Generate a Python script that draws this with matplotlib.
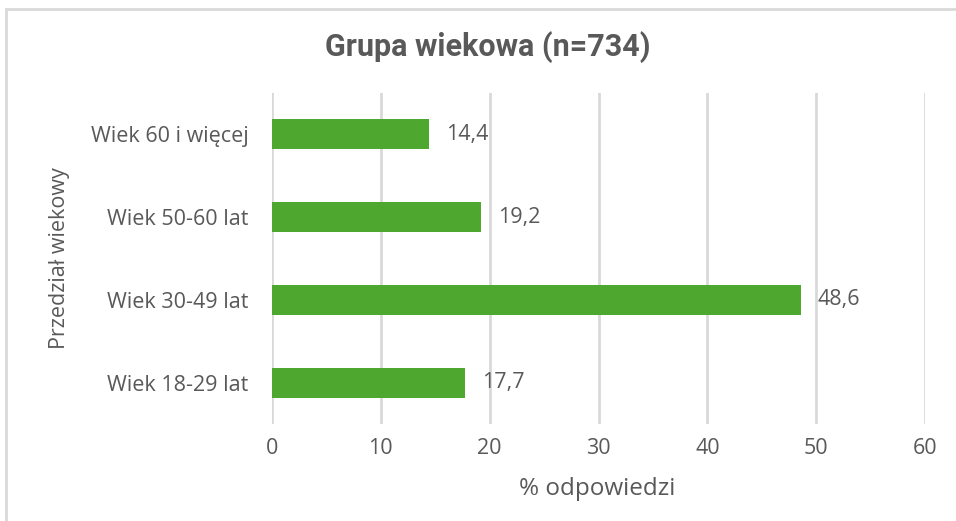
import matplotlib.pyplot as plt
from matplotlib.patches import Rectangle

# age groups, bottom to top
groups = ["Wiek 18-29 lat", "Wiek 30-49 lat", "Wiek 50-60 lat", "Wiek 60 i więcej"]
shares = [17.7, 48.6, 19.2, 14.4]
xticks = [0, 10, 20, 30, 40, 50, 60]

text_col = "#595959"
grid_col = "#D9D9D9"
bar_col = "#4EA72E"

plt.rcParams["font.family"] = ["Open Sans", "DejaVu Sans"]

fig = plt.figure(figsize=(9.56, 5.21), dpi=100)
ax = fig.add_axes([0.2845, 0.186, 0.9676 - 0.2845, 0.8215 - 0.186])

# chart frame
fig.patches.append(Rectangle((6 / 956, -0.05), 1.2, 1 - 9 / 521 + 0.05,
                             transform=fig.transFigure, fill=False,
                             edgecolor="#D9D9D9", linewidth=2))

y = range(len(groups))
ax.barh(y, shares, height=0.36, color=bar_col, zorder=3)

for yi, v in zip(y, shares):
    ax.annotate(f"{v:.1f}".replace(".", ","), (v, yi), xytext=(17, 0),
                textcoords="offset pixels",
                va="center", ha="left", fontsize=15.5, color=text_col)

ax.set_xlim(0, 60)
ax.set_ylim(-0.5, len(groups) - 0.5)
ax.set_xticks(xticks)
ax.set_xticklabels([str(t) for t in xticks])
ax.set_yticks(list(y))
ax.set_yticklabels(groups)
ax.tick_params(axis="both", length=0, labelsize=15.5, labelcolor=text_col)
ax.tick_params(axis="y", pad=17)
ax.tick_params(axis="x", pad=10)

ax.grid(axis="x", color=grid_col, linewidth=2, zorder=0)
for s in ax.spines.values():
    s.set_visible(False)

ax.set_xlabel("% odpowiedzi", fontsize=17.5, color=text_col)
ax.set_ylabel("Przedział wiekowy", fontsize=15.5, color=text_col)
ax.yaxis.set_label_coords(-0.31, 0.5)
ax.xaxis.set_label_coords(0.498, -0.16)

fig.text(0.51, 0.91, "Grupa wiekowa (n=734)", ha="center", va="center",
         fontsize=22, fontweight="bold", color=text_col, family="Roboto")

fig.savefig("out.png", dpi=100, facecolor="white")
